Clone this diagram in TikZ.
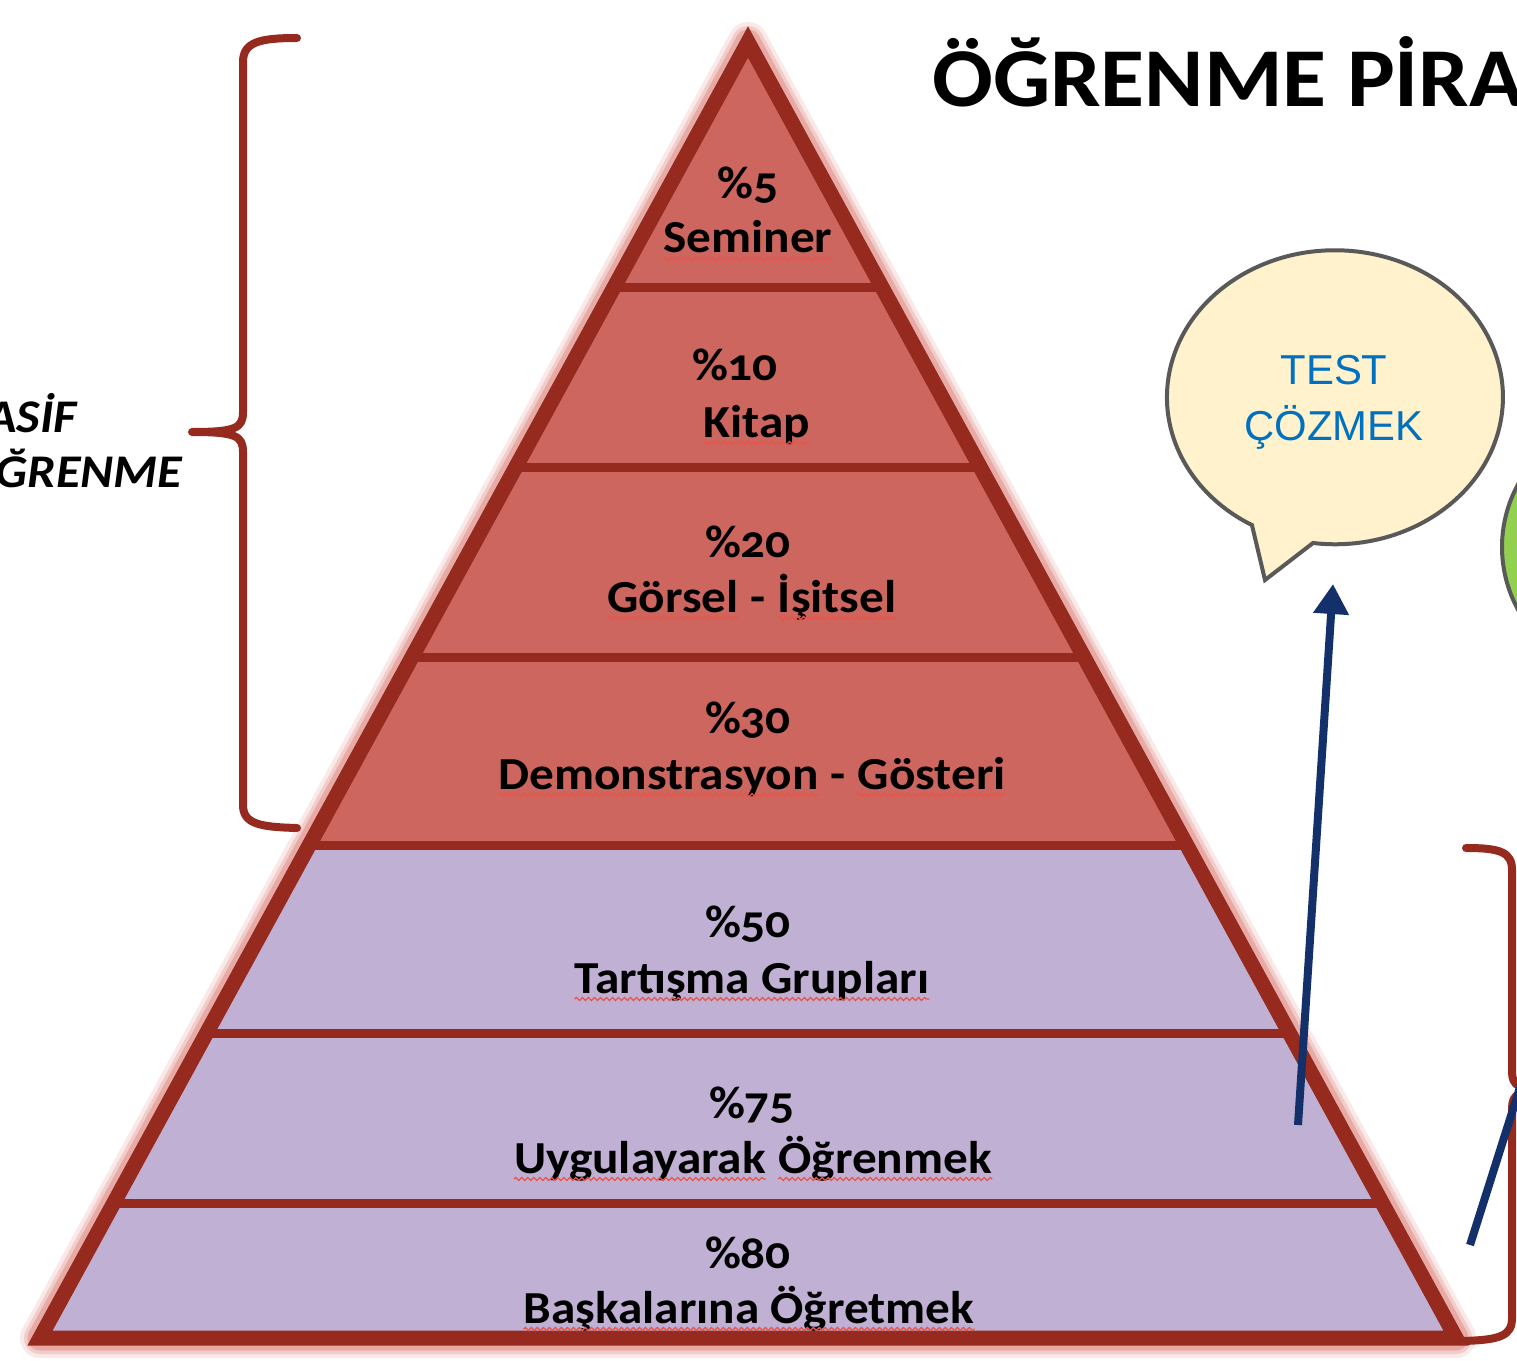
\documentclass[tikz,border=0pt]{standalone}
\usepackage{fontspec}
\setmainfont{Carlito}[Numbers=OldStyle, FakeStretch=1.075]
\newfontfamily\arialf{Liberation Sans}
\usetikzlibrary{arrows.meta,decorations.pathmorphing}
\definecolor{pyrline}{HTML}{962A1E}
\definecolor{pyrred}{HTML}{CD665F}
\definecolor{pyrlav}{HTML}{C0B0D3}
\definecolor{pyrglow}{HTML}{E08A82}
\definecolor{navyline}{HTML}{13306A}
\definecolor{bubfill}{HTML}{FFF2CC}
\definecolor{bubline}{HTML}{595959}
\definecolor{bubtext}{HTML}{0070C0}
\definecolor{greenfill}{HTML}{92D050}
\definecolor{squigred}{HTML}{E8554A}
\newcommand{\sqw}[1]{\tikz[baseline=(w.base)]{\node[inner sep=0pt, anchor=base] (w) at (0,0) {#1};
  \draw[squigred, line width=1.3bp, decorate, decoration={snake, amplitude=1.5bp, segment length=6bp}] ([yshift=-6bp]w.base west) -- ([yshift=-6bp]w.base east);}}
\begin{document}
\begin{tikzpicture}[x=1bp,y=-1bp,
  pct/.style={font=\bfseries\fontsize{46}{54}\selectfont, anchor=base, inner sep=0pt},
  lbl/.style={font=\bfseries\fontsize{46}{54}\selectfont, anchor=base, inner sep=0pt},
  bracestyle/.style={draw=pyrline, line width=8bp, line cap=round, line join=round},
  navy/.style={draw=navyline, line width=8bp},
  bubble/.style={draw=bubline, line width=4bp}
]
\useasboundingbox (0,0) rectangle (1517,1361);
\clip (0,0) rectangle (1517,1361);
\fill[white] (0,0) rectangle (1517,1361);

% pyramid coordinates
\coordinate (apex) at (748,42);
\coordinate (bl) at (40,1338);
\coordinate (br) at (1456,1338);
\coordinate (l1) at (614.2,287); \coordinate (r1) at (881.8,287);
\coordinate (l2) at (515.8,467); \coordinate (r2) at (980.2,467);
\coordinate (l3) at (412.0,657); \coordinate (r3) at (1084.0,657);
\coordinate (l4) at (309.3,845); \coordinate (r4) at (1186.7,845);
\coordinate (l5) at (206.6,1033); \coordinate (r5) at (1289.4,1033);
\coordinate (l6) at (113.7,1203); \coordinate (r6) at (1382.3,1203);

% glow
\draw[pyrglow, opacity=0.18, line width=40bp, line join=round] (apex) -- (bl) -- (br) -- cycle;
\draw[pyrglow, opacity=0.3, line width=32bp, line join=round] (apex) -- (bl) -- (br) -- cycle;
\draw[pyrglow, opacity=0.5, line width=25bp, line join=round] (apex) -- (bl) -- (br) -- cycle;
% fills
\fill[pyrred] (apex) -- (l4) -- (r4) -- cycle;
\fill[pyrlav] (l4) -- (bl) -- (br) -- (r4) -- cycle;
% dividers
\foreach \i in {1,...,6} {
  \draw[pyrline, line width=9bp] (l\i) -- (r\i);
}
% outline
\draw[pyrline, line width=15bp, line join=miter] (apex) -- (bl) -- (br) -- cycle;

% labels
\node[pct] (p5) at (748,199) {\%5};
\node[lbl] (t5) at (748,253) {\sqw{Seminer}};
\node[pct] (p10) at (735,380) {\%10};
\node[lbl] (t10) at (757,437) {\sqw{Kitap}};
\node[pct] (p20) at (748,557) {\%20};
\node[lbl] (t20) at (752,612) {\sqw{Görsel} - \sqw{İşitsel}};
\node[pct] (p30) at (748,733) {\%30};
\node[lbl] (t30) at (752,789) {\sqw{Demonstrasyon} - \sqw{Gösteri}};
\node[pct] (p50) at (748,937) {\%50};
\node[lbl] (t50) at (752,993) {\sqw{Tartışma Grupları}};
\node[pct] (p75) at (752,1118) {\%75};
\node[lbl] (t75) at (753,1173) {\sqw{Uygulayarak} \sqw{Öğrenmek}};
\node[pct] (p80) at (748,1268) {\%80};
\node[lbl] (t80) at (749,1323) {\sqw{Başkalarına Öğretmek}};

% title
\node[anchor=base west, inner sep=0pt, font=\bfseries\fontsize{84}{90}\selectfont] (title) at (932,107) {ÖĞRENME PİRAMİDİ};

% left brace
\draw[bracestyle] (297,38) .. controls (260,38) and (243,42) .. (243,62)
  -- (243,412) .. controls (243,428) and (236,432) .. (192,432)
  .. controls (236,432) and (243,436) .. (243,452)
  -- (243,805) .. controls (243,824) and (260,827) .. (297,828);
\node[anchor=base west, inner sep=0pt, align=left, font=\bfseries\itshape\fontsize{47}{55}\selectfont] (pasif) at (-38,487) {PASİF\\ÖĞRENME};

% right brace
\draw[bracestyle] (1466,848) .. controls (1500,848) and (1512,852) .. (1512,870)
  -- (1512,1072) .. controls (1512,1086) and (1520,1090) .. (1545,1090)
  .. controls (1520,1090) and (1512,1094) .. (1512,1108)
  -- (1512,1318) .. controls (1512,1336) and (1500,1340) .. (1462,1341);

% green bubble (partly visible)
\filldraw[bubble, fill=greenfill] (1670,547) ellipse[x radius=168, y radius=147];

% speech bubble
\filldraw[bubble, fill=bubfill, line join=miter]
  (1313,543) arc[start angle=97.5, end angle=-240.4, x radius=168, y radius=147]
  -- (1265,580) -- cycle;
\node[inner sep=0pt, align=center, text=bubtext, font=\arialf\fontsize{42}{56}\selectfont] (test) at (1334,402) {TEST\\ÇÖZMEK};

% arrows
\coordinate (a1s) at (1298,1125);
\coordinate (a1e) at (1333,584);
\draw[navy, -{Triangle[width=34bp,length=30bp]}] (a1s) -- (a1e);
\coordinate (a2s) at (1470,1245);
\coordinate (a2e) at (1535,1040);
\draw[navy] (a2s) -- (a2e);
\end{tikzpicture}
\end{document}
